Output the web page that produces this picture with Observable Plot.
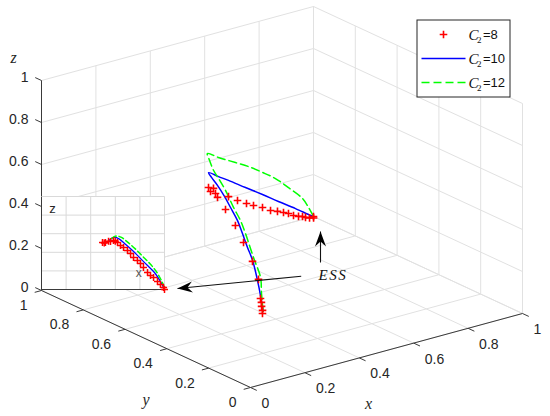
<!DOCTYPE html>
<html><head><meta charset="utf-8">
<script src="https://cdn.jsdelivr.net/npm/d3@7"></script>
<script src="https://cdn.jsdelivr.net/npm/@observablehq/plot@0.6"></script>
<style>html,body{margin:0;padding:0;background:#fff}#chart svg{display:block}</style>
</head><body><div id="chart"></div>
<script>
// ---------------- data ----------------
const tickValues = [0, 0.2, 0.4, 0.6, 0.8, 1];
const tickLabels = ["0", "0.2", "0.4", "0.6", "0.8", "1"];
const seriesC2 = ["8", "10", "12"];

// C2 = 8 (red + markers), 3-D coordinates
const red_x = [0.2, 0.2033, 0.2167, 0.230, 0.2434, 0.3068, 0.367, 0.430, 0.487, 0.5405, 0.5806, 0.594, 0.6006, 0.6106, 0.614,
  0.6875, 0.7206, 0.7537, 0.7794, 0.8125, 0.842, 0.8676, 0.8897, 0.908, 0.9265, 0.9449, 0.9596, 0.9706, 0.9816, 0.9926, 1];
const red_y = [0.203, 0.207, 0.229, 0.247, 0.269, 0.361, 0.468, 0.593, 0.706, 0.823, 0.9134, 0.9406, 0.973, 0.9718, 1,
  1, 1, 1, 1, 1, 1, 1, 1, 1, 1, 1, 1, 1, 0.995, 0.99, 1];
const red_z = [0.188, 0.200, 0.204, 0.210, 0.214, 0.240, 0.255, 0.265, 0.274, 0.277, 0.279, 0.280, 0.272, 0.284, 0.274,
  0.205, 0.175, 0.149, 0.130, 0.109, 0.084, 0.071, 0.058, 0.047, 0.031, 0.020, 0.014, 0.006, 0.002, 0, 0];

// C2 = 10 (blue solid line)
const blue_x = [0.2, 0.2477, 0.2923, 0.352, 0.3906, 0.4323, 0.471, 0.5098, 0.5425, 0.5753, 0.599, 0.614,
  0.651, 0.6875, 0.75, 0.8125, 0.871, 0.934, 0.989, 1];
const blue_y = [0.2, 0.2746, 0.347, 0.448, 0.5227, 0.601, 0.675, 0.759, 0.8305, 0.9067, 0.966, 1,
  1, 1, 1, 1, 1, 1, 1, 1];
const blue_z = [0.2, 0.225, 0.247, 0.274, 0.288, 0.303, 0.317, 0.327, 0.335, 0.341, 0.343, 0.345,
  0.313, 0.282, 0.226, 0.171, 0.117, 0.061, 0.009, 0];

// C2 = 12 (green dashed line)
const green_x = [0.2, 0.2467, 0.2882, 0.340, 0.4024, 0.4361, 0.470, 0.514, 0.545, 0.566, 0.592, 0.610,
  0.651, 0.713, 0.761, 0.8125, 0.860, 0.908, 0.9596, 0.982, 1];
const green_y = [0.2, 0.2684, 0.327, 0.428, 0.548, 0.6153, 0.693, 0.7885, 0.862, 0.913, 0.9665, 1,
  1, 1, 1, 1, 1, 1, 1, 1, 1];
const green_z = [0.2, 0.237, 0.271, 0.301, 0.339, 0.357, 0.372, 0.393, 0.405, 0.412, 0.427, 0.437,
  0.404, 0.358, 0.322, 0.276, 0.230, 0.170, 0.100, 0.049, 0];

// inset: x–z view near the ESS
const inset_red_x = [0.496, 0.51, 0.52, 0.545, 0.561, 0.585, 0.60, 0.618, 0.642, 0.667, 0.699, 0.724, 0.748, 0.78, 0.805,
  0.829, 0.862, 0.886, 0.911, 0.943, 0.967, 0.992, 1.0];
const inset_red_z = [0.505, 0.50, 0.505, 0.52, 0.516, 0.527, 0.52, 0.505, 0.473, 0.452, 0.419, 0.387, 0.344, 0.312, 0.28,
  0.237, 0.183, 0.151, 0.129, 0.086, 0.054, 0.022, 0.0];
const inset_blue_x = [0.55, 0.59, 0.63, 0.68, 0.74, 0.80, 0.86, 0.92, 0.97, 1.0];
const inset_blue_z = [0.53, 0.56, 0.545, 0.49, 0.42, 0.34, 0.26, 0.18, 0.08, 0.0];
const inset_green_x = [0.57, 0.61, 0.65, 0.70, 0.76, 0.82, 0.88, 0.93, 0.97, 1.0];
const inset_green_z = [0.55, 0.575, 0.56, 0.51, 0.44, 0.36, 0.28, 0.20, 0.11, 0.02];

// ---------------- layout ----------------
const W = 550, H = 416;
const view = {o: [250, 387], ex: [272, -74], ey: [-209, -97], ez: [0, -210]};
const proj = (x, y, z) => [
  view.o[0] + view.ex[0] * x + view.ey[0] * y + view.ez[0] * z,
  view.o[1] + view.ex[1] * x + view.ey[1] * y + view.ez[1] * z
];
const insetBox = {x0: 41, x1: 164, y0: 289, y1: 196};
const iproj = (u, v) => [insetBox.x0 + (insetBox.x1 - insetBox.x0) * u, insetBox.y0 + (insetBox.y1 - insetBox.y0) * v];

const seg3 = (a, b) => { const p = proj(...a), q = proj(...b); return {x1: p[0], y1: p[1], x2: q[0], y2: q[1]}; };
const segI = (a, b) => { const p = iproj(...a), q = iproj(...b); return {x1: p[0], y1: p[1], x2: q[0], y2: q[1]}; };

const grid = [];
for (const t of tickValues) {
  grid.push(seg3([t, 0, 0], [t, 1, 0]), seg3([0, t, 0], [1, t, 0]),
            seg3([t, 1, 0], [t, 1, 1]), seg3([0, 1, t], [1, 1, t]),
            seg3([1, t, 0], [1, t, 1]), seg3([1, 0, t], [1, 1, t]));
}
const axes = [seg3([0, 0, 0], [1, 0, 0]), seg3([0, 0, 0], [0, 1, 0]), seg3([0, 1, 0], [0, 1, 1])];
const tickSegs = [];
tickValues.forEach(t => {
  tickSegs.push(seg3([t, 0, 0], [t, -0.03, 0]), seg3([0, t, 0], [-0.025, t, 0]), seg3([0, 1, t], [0, 1.03, t]));
});
const xLab = tickValues.map((t, i) => { const p = proj(t, 0, 0); return {x: p[0], y: p[1], text: tickLabels[i]}; });
const yLab = tickValues.map((t, i) => { const p = proj(0, t, 0); return {x: p[0], y: p[1], text: tickLabels[i]}; });
const zLab = tickValues.map((t, i) => { const p = proj(0, 1, t); return {x: p[0], y: p[1], text: tickLabels[i]}; });
const at = (p) => ({x: p[0], y: p[1]});

const pts3 = (xs, ys, zs) => xs.map((x, i) => at(proj(x, ys[i], zs[i])));
const ptsI = (us, vs) => us.map((u, i) => at(iproj(u, vs[i])));
const redPts = pts3(red_x, red_y, red_z);
const bluePts = pts3(blue_x, blue_y, blue_z);
const greenPts = pts3(green_x, green_y, green_z);
const iRed = ptsI(inset_red_x, inset_red_z);
const iBlue = ptsI(inset_blue_x, inset_blue_z);
const iGreen = ptsI(inset_green_x, inset_green_z);

const insetGrid = [];
[0.2, 0.4, 0.6, 0.8].forEach(t => { insetGrid.push(segI([t, 0], [t, 1]), segI([0, t], [1, t])); });
insetGrid.push(segI([0, 1], [1, 1]), segI([1, 0], [1, 1]));
const insetAxes = [segI([0, 0], [1, 0]), segI([0, 0], [0, 1])];

// annotation arrows (figure pixel coordinates)
const arrows = [{x1: 320, y1: 262, x2: 320, y2: 231}, {x1: 300.7, y1: 275.7, x2: 177, y2: 288}];
arrows.forEach(a => a.angle = Math.atan2(a.y2 - a.y1, a.x2 - a.x1) * 180 / Math.PI);

const plusSym = {draw(ctx, size) { const r = Math.sqrt(size / Math.PI); ctx.moveTo(-r, 0); ctx.lineTo(r, 0); ctx.moveTo(0, -r); ctx.lineTo(0, r); }};
const dartSym = {draw(ctx) { ctx.moveTo(0, 0); ctx.lineTo(-15, -5.5); ctx.lineTo(-10, 0); ctx.lineTo(-15, 5.5); ctx.closePath(); }};

const leg = {x1: 417, x2: 510, y1: 20, y2: 97, rows: [34, 58, 82], symX: 443, lineX1: 421, lineX2: 465, textX: 468};
const legRows = seriesC2.map((c, i) => ({c, y: leg.rows[i]}));

const SANS = "Liberation Sans, Arial, Helvetica, sans-serif";
const SERIF = "Liberation Serif, Times New Roman, serif";
const INK = "#262626";

const chart = Plot.plot({
  width: W, height: H, margin: 0,
  x: {domain: [0, W], range: [0, W], axis: null},
  y: {domain: [0, H], range: [0, H], axis: null},
  style: {background: "#fff", overflow: "visible"},
  marks: [
    Plot.link(grid, {x1: "x1", y1: "y1", x2: "x2", y2: "y2", stroke: "#e1e1e1", strokeWidth: 1}),
    Plot.link(axes, {x1: "x1", y1: "y1", x2: "x2", y2: "y2", stroke: "#3a3a3a", strokeWidth: 1}),
    Plot.link(tickSegs, {x1: "x1", y1: "y1", x2: "x2", y2: "y2", stroke: "#3a3a3a", strokeWidth: 1}),
    Plot.text(xLab, {x: "x", y: "y", text: "text", textAnchor: "start", dx: 11, dy: 16, fontSize: 14, fontFamily: SANS, fill: INK}),
    Plot.text(yLab, {x: "x", y: "y", text: "text", textAnchor: "end", dx: -14, dy: 15, fontSize: 14, fontFamily: SANS, fill: INK}),
    Plot.text(zLab, {x: "x", y: "y", text: "text", textAnchor: "end", dx: -13, dy: -2.5, fontSize: 14, fontFamily: SANS, fill: INK}),
    Plot.text([at(proj(0.43, 0, 0))], {x: "x", y: "y", text: () => "x", dx: 1, dy: 48, fontSize: 16, fontStyle: "italic", fontFamily: SERIF, fill: INK}),
    Plot.text([at(proj(0, 0.5, 0))], {x: "x", y: "y", text: () => "y", dx: 0, dy: 61, fontSize: 16, fontStyle: "italic", fontFamily: SERIF, fill: INK}),
    Plot.text([at(proj(0, 1, 1))], {x: "x", y: "y", text: () => "z", dx: -28, dy: -23, fontSize: 16, fontStyle: "italic", fontFamily: SERIF, fill: INK}),
    // main 3-D curves
    Plot.line(bluePts, {x: "x", y: "y", stroke: "#0000ff", strokeWidth: 1.5, curve: "catmull-rom"}),
    Plot.line(greenPts, {x: "x", y: "y", stroke: "#00ff00", strokeWidth: 1.5, strokeDasharray: "8,4", curve: "catmull-rom"}),
    Plot.dot(redPts, {x: "x", y: "y", symbol: plusSym, r: 3.8, stroke: "#ff0000", fill: "none", strokeWidth: 1.6}),
    // inset
    Plot.rect([{x1: insetBox.x0, x2: insetBox.x1, y1: insetBox.y1, y2: insetBox.y0}], {x1: "x1", x2: "x2", y1: "y1", y2: "y2", fill: "#fff"}),
    Plot.link(insetGrid, {x1: "x1", y1: "y1", x2: "x2", y2: "y2", stroke: "#d9d9d9", strokeWidth: 1}),
    Plot.link(insetAxes, {x1: "x1", y1: "y1", x2: "x2", y2: "y2", stroke: "#3a3a3a", strokeWidth: 1}),
    Plot.text([at(iproj(0.09, 0.87))], {x: "x", y: "y", text: () => "z", fontSize: 13, fontFamily: SANS, fill: INK}),
    Plot.line(iBlue, {x: "x", y: "y", stroke: "#0000ff", strokeWidth: 1.3, curve: "catmull-rom"}),
    Plot.line(iGreen, {x: "x", y: "y", stroke: "#00ff00", strokeWidth: 1.5, strokeDasharray: "5,3", curve: "catmull-rom"}),
    Plot.dot(iRed, {x: "x", y: "y", symbol: plusSym, r: 3.5, stroke: "#ff0000", fill: "none", strokeWidth: 1.5}),
    Plot.text([at(iproj(0.79, 0.18))], {x: "x", y: "y", text: () => "x", fontSize: 12, fontFamily: SANS, fill: "#555"}),
    // annotations
    Plot.link(arrows, {x1: "x1", y1: "y1", x2: "x2", y2: "y2", stroke: "#111", strokeWidth: 1.1}),
    Plot.dot(arrows, {x: "x2", y: "y2", symbol: dartSym, rotate: "angle", fill: "#000", stroke: "none", r: 5}),
    Plot.text([{x: 318, y: 275}], {x: "x", y: "y", text: () => "ESS", textAnchor: "start", fontSize: 15, fontStyle: "italic", fontFamily: SERIF, fill: "#111"}),
    // legend
    Plot.rect([leg], {x1: "x1", x2: "x2", y1: "y1", y2: "y2", fill: "#fff", stroke: INK, strokeWidth: 1}),
    Plot.dot([legRows[0]], {x: () => leg.symX, y: "y", symbol: plusSym, r: 3.8, stroke: "#ff0000", fill: "none", strokeWidth: 1.6}),
    Plot.link([legRows[1]], {x1: () => leg.lineX1, x2: () => leg.lineX2, y1: "y", y2: "y", stroke: "#0000ff", strokeWidth: 1.5}),
    Plot.link([legRows[2]], {x1: () => leg.lineX1, x2: () => leg.lineX2, y1: "y", y2: "y", stroke: "#00ff00", strokeWidth: 1.5, strokeDasharray: "8,4"}),
    Plot.text(legRows, {x: () => leg.textX, y: "y", text: () => "C", textAnchor: "start", lineAnchor: "bottom", dy: 5, fontSize: 15, fontStyle: "italic", fontFamily: SERIF, fill: "#111"}),
    Plot.text(legRows, {x: () => leg.textX, y: "y", text: () => "2", textAnchor: "start", lineAnchor: "bottom", dx: 8.5, dy: 8.5, fontSize: 9, fontFamily: SERIF, fill: "#111"}),
    Plot.text(legRows, {x: () => leg.textX, y: "y", text: d => "=" + d.c, textAnchor: "start", lineAnchor: "bottom", dx: 14.5, dy: 4.5, fontSize: 13, fontFamily: SANS, fill: "#111"})
  ]
});
d3.select(chart).selectAll("text").filter(function () { return this.textContent === "ESS"; }).attr("letter-spacing", "1.6px");
document.getElementById("chart").append(chart);
</script>
</body></html>
